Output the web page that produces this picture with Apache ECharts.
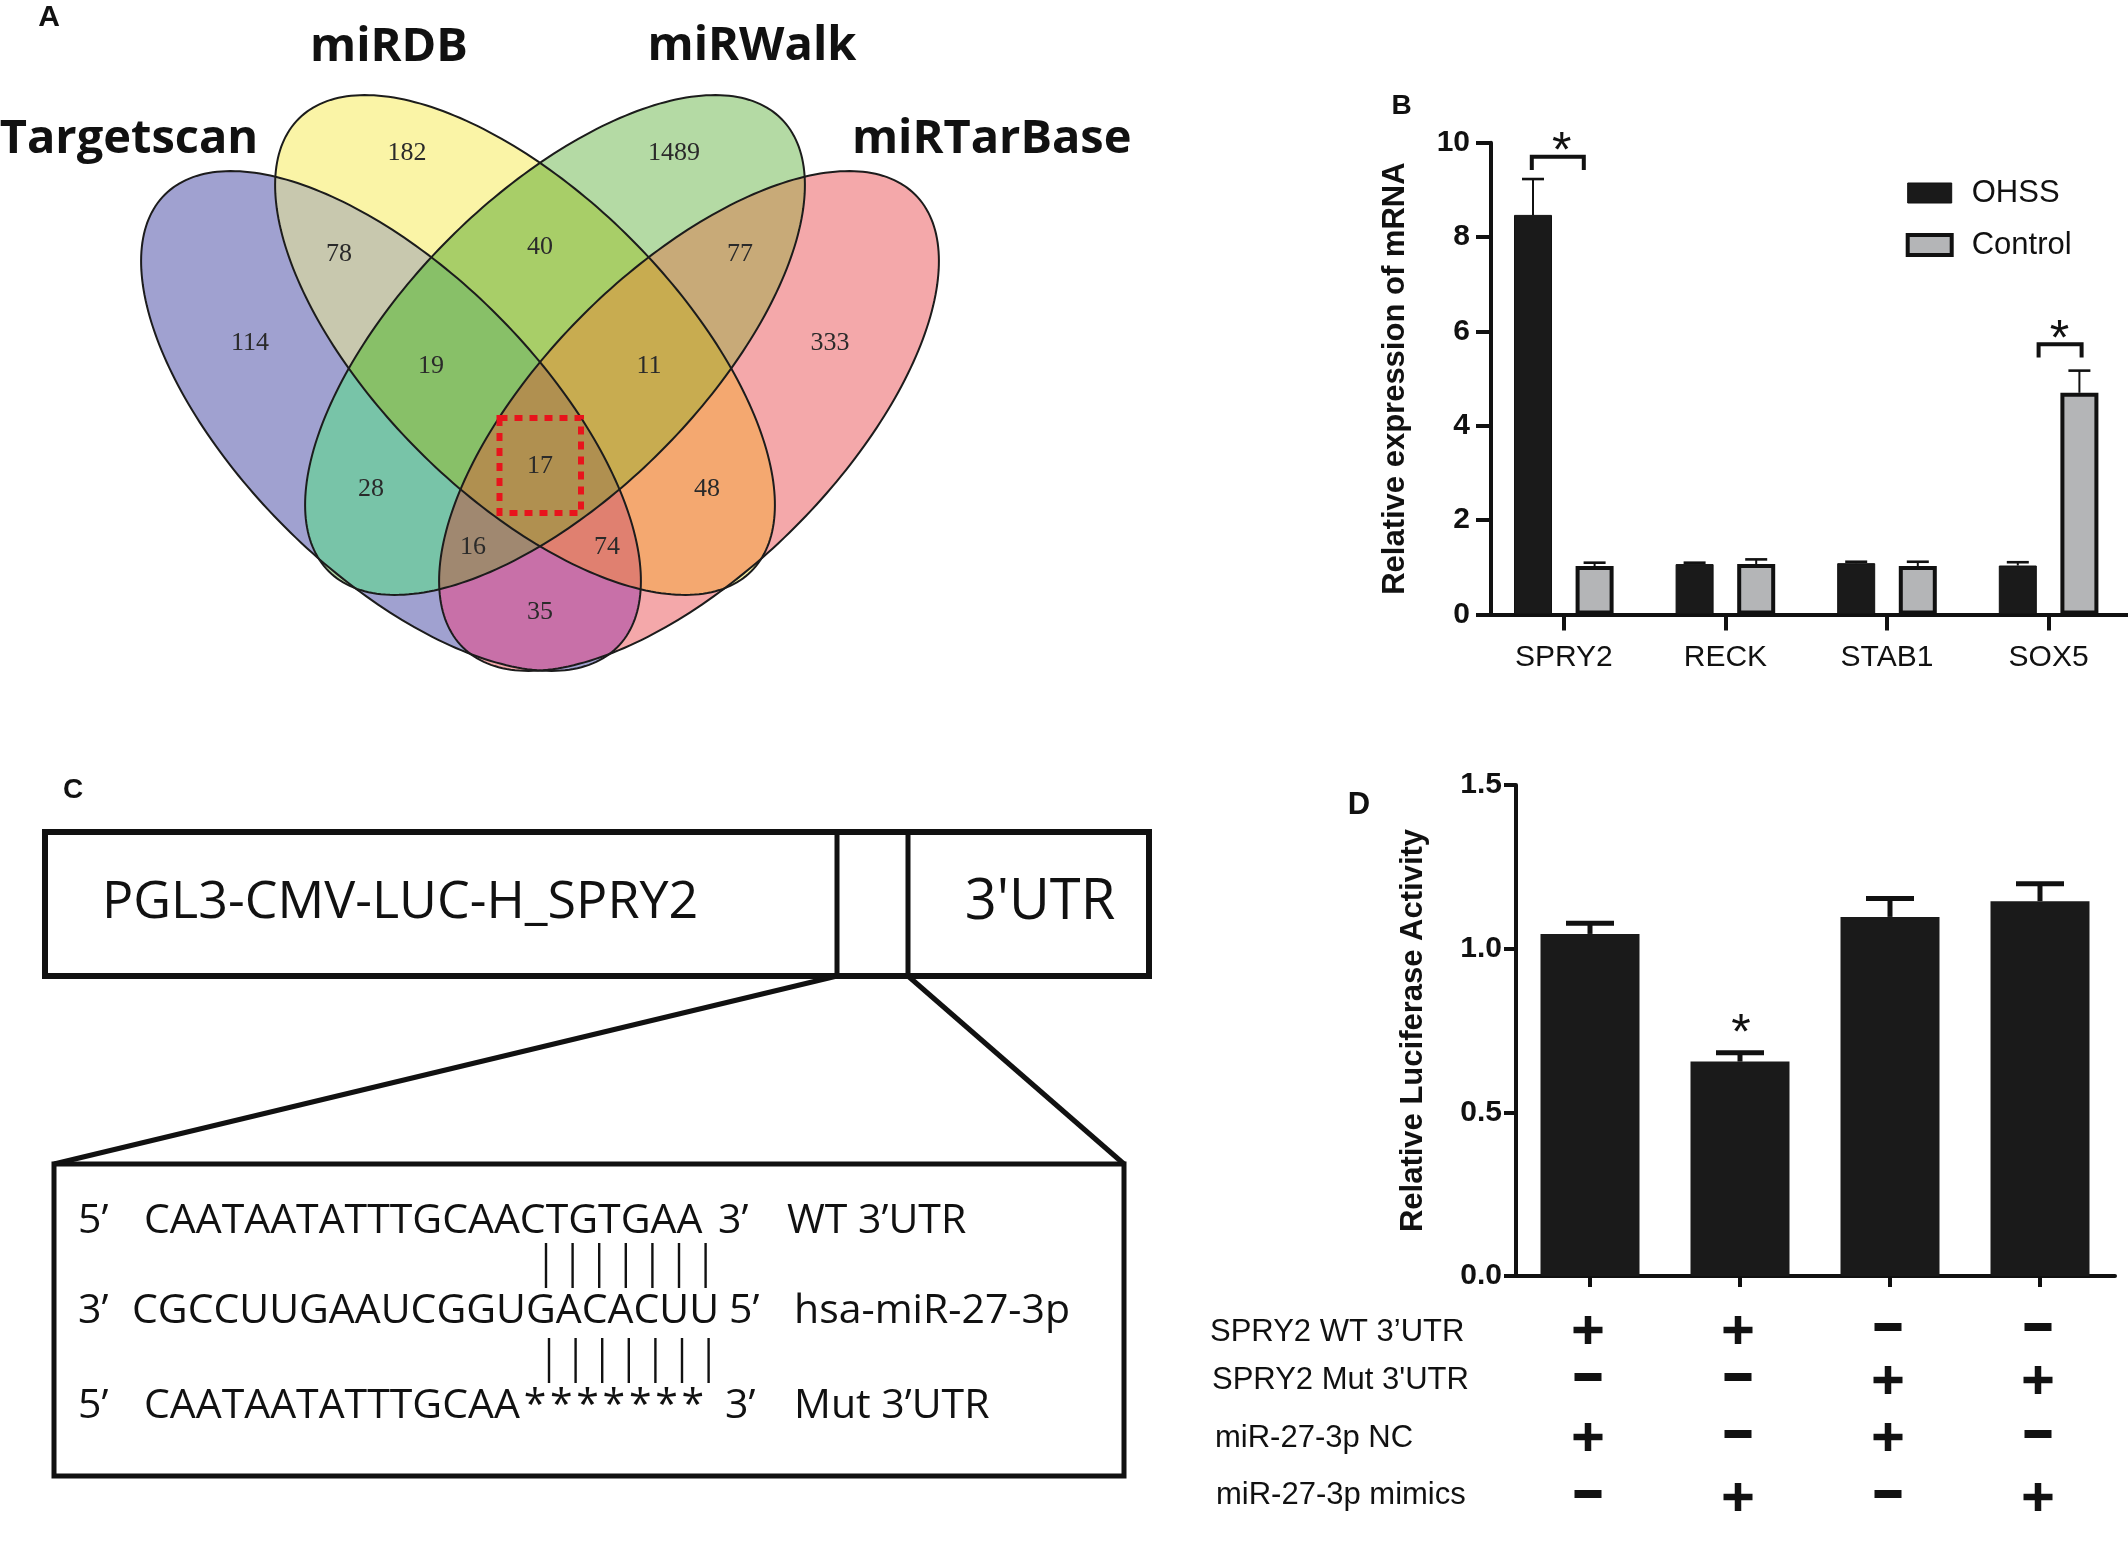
<!DOCTYPE html>
<html>
<head>
<meta charset="utf-8">
<script src="https://cdn.jsdelivr.net/npm/echarts@6/dist/echarts.min.js"></script>
<style>
html,body{margin:0;padding:0;background:#ffffff;}
#chart{width:2128px;height:1559px;}
</style>
</head>
<body>
<div id="chart"></div>
<script>
// ---------------- Panel A : Venn data ----------------
const vennSetNames = ['Targetscan', 'miRDB', 'miRWalk', 'miRTarBase'];
const vennRegionKeys = ['0','1','2','3','01','12','23','02','13','03','012','123','023','013','0123'];
const vennRegionCounts = [114, 182, 1489, 333, 78, 40, 77, 28, 48, 35, 19, 11, 16, 74, 17];

// ---------------- Panel B : qPCR data ----------------
const geneCategories = ['SPRY2', 'RECK', 'STAB1', 'SOX5'];
const seriesNames = ['OHSS', 'Control'];
const ohssValues = [8.47, 1.07, 1.09, 1.04];
const ohssErrors = [0.76, 0.03, 0.03, 0.07];
const controlValues = [1.03, 1.07, 1.03, 4.70];
const controlErrors = [0.07, 0.10, 0.09, 0.47];
const geneYTicks = { min: 0, max: 10, interval: 2 };
const geneSig = [ { cat: 0, bracket: 9.70, leg: 9.42, star: 10.02 },
                  { cat: 3, bracket: 5.73, leg: 5.45, star: 6.03 } ];

// ---------------- Panel C : construct text ----------------
const vectorName = 'PGL3-CMV-LUC-H_SPRY2';
const utrName = "3'UTR";
const seqLine1 = ['5’', 'CAATAATATTTGCAACTGTGAA', '3’', 'WT 3’UTR'];
const seqLine2 = ['3’', 'CGCCUUGAAUCGGUGACACUU', '5’', 'hsa-miR-27-3p'];
const seqLine3 = ['5’', 'CAATAATATTTGCAA', '3’', 'Mut 3’UTR'];
const seedPairCount = 7;

// ---------------- Panel D : luciferase data ----------------
const lucGroups = ['G1', 'G2', 'G3', 'G4'];
const lucValues = [1.045, 0.655, 1.097, 1.145];
const lucErrors = [0.033, 0.027, 0.056, 0.053];
const lucYTicks = { min: 0, max: 1.5, interval: 0.5 };
const lucSigGroup = 1;
const conditionRows = ['SPRY2 WT 3’UTR', "SPRY2 Mut 3'UTR", 'miR-27-3p NC', 'miR-27-3p mimics'];
const conditionMatrix = [
  [1, 1, 0, 0],
  [0, 0, 1, 1],
  [1, 0, 1, 0],
  [0, 1, 0, 1]
];

// ================= layout / style (not data) =================
const INK = '#111111';
const SANS = '"Liberation Sans", Arial, sans-serif';
const vennRegionColors = {
  '0':'#a0a1d0','1':'#faf4a6','2':'#b4daa4','3':'#f4a8aa',
  '01':'#c8c8ae','12':'#a8ce68','23':'#c8aa78','02':'#78c4a8','13':'#f4a870','03':'#c870a8',
  '012':'#88c068','123':'#c8ac50','023':'#a08870','013':'#e08070','0123':'#b09050'
};
const vennLabelPos = {
  '0':[250,343.5],'1':[407,153.5],'2':[674,153.5],'3':[830,343.5],
  '01':[339,254],'12':[540,247.5],'23':[740,254],'02':[371,489],'13':[707,489],'03':[540,612],
  '012':[431,366],'123':[649,366],'023':[473,547],'013':[607,547],'0123':[540,466]
};
const vennEllipses = [
  { cx: 391, cy: 421, rot: 45 },
  { cx: 525, cy: 345, rot: 45 },
  { cx: 555, cy: 345, rot: -45 },
  { cx: 689, cy: 421, rot: -45 }
];
const ELL_A = 320, ELL_B = 150;
const vennSetLabelPos = [[129, 139.5], [389, 47.5], [752, 46.5], [991.7, 140]];

function ellipsePoints(e, n) {
  const pts = [];
  const th = e.rot * Math.PI / 180;
  for (let k = 0; k < n; k++) {
    const t = 2 * Math.PI * k / n;
    pts.push([
      e.cx + ELL_A * Math.cos(t) * Math.cos(th) - ELL_B * Math.sin(t) * Math.sin(th),
      e.cy + ELL_A * Math.cos(t) * Math.sin(th) + ELL_B * Math.sin(t) * Math.cos(th)
    ]);
  }
  return pts;
}
function signedArea(p) {
  let s = 0;
  for (let i = 0; i < p.length; i++) {
    const a = p[i], b = p[(i + 1) % p.length];
    s += a[0] * b[1] - b[0] * a[1];
  }
  return s / 2;
}
function clipConvex(subject, clipper) {
  const sgn = signedArea(clipper) > 0 ? 1 : -1;
  let out = subject;
  for (let i = 0; i < clipper.length && out.length; i++) {
    const A = clipper[i], B = clipper[(i + 1) % clipper.length];
    const inside = P => sgn * ((B[0] - A[0]) * (P[1] - A[1]) - (B[1] - A[1]) * (P[0] - A[0])) >= 0;
    const inter = (P, Q) => {
      const x1 = P[0], y1 = P[1], x2 = Q[0], y2 = Q[1];
      const x3 = A[0], y3 = A[1], x4 = B[0], y4 = B[1];
      const den = (x1 - x2) * (y3 - y4) - (y1 - y2) * (x3 - x4);
      const t = ((x1 - x3) * (y3 - y4) - (y1 - y3) * (x3 - x4)) / den;
      return [x1 + t * (x2 - x1), y1 + t * (y2 - y1)];
    };
    const inp = out; out = [];
    for (let j = 0; j < inp.length; j++) {
      const cur = inp[j], prev = inp[(j + inp.length - 1) % inp.length];
      if (inside(cur)) {
        if (!inside(prev)) out.push(inter(prev, cur));
        out.push(cur);
      } else if (inside(prev)) {
        out.push(inter(prev, cur));
      }
    }
  }
  return out;
}

function txt(str, x, y, font, align, fill) {
  return { type: 'text', x: x, y: y, silent: true, z: 10,
    style: { text: str, font: font, fill: fill || INK,
             align: align || 'left', textAlign: align || 'left',
             verticalAlign: 'middle', textVerticalAlign: 'middle' } };
}
function ln(x1, y1, x2, y2, w) {
  return { type: 'line', silent: true, z: 10, shape: { x1, y1, x2, y2 },
           style: { stroke: INK, lineWidth: w } };
}

const graphics = [];

// ---- Panel A : Venn ----
const ellPts = vennEllipses.map(e => ellipsePoints(e, 260));
const orderedKeys = vennRegionKeys.slice().sort((a, b) => a.length - b.length);
orderedKeys.forEach(key => {
  const idx = key.split('').map(Number);
  let poly = ellPts[idx[0]];
  for (let i = 1; i < idx.length; i++) poly = clipConvex(poly, ellPts[idx[i]]);
  if (poly.length > 2) {
    graphics.push({ type: 'polygon', silent: true, z: 1, shape: { points: poly },
                    style: { fill: vennRegionColors[key], stroke: vennRegionColors[key], lineWidth: 0.6 } });
  }
});
ellPts.forEach(p => {
  graphics.push({ type: 'polygon', silent: true, z: 2, shape: { points: p },
                  style: { fill: 'none', stroke: '#1c1c1c', lineWidth: 2 } });
});
vennRegionKeys.forEach((key, i) => {
  const p = vennLabelPos[key];
  graphics.push(txt(String(vennRegionCounts[i]), p[0], p[1], '26px "Liberation Serif", "DejaVu Serif", serif', 'center', '#2a2a2a'));
});
vennSetNames.forEach((name, i) => {
  const p = vennSetLabelPos[i];
  graphics.push(txt(name, p[0], p[1], 'bold 47px "Open Sans", sans-serif', 'center', INK));
});
graphics.push({ type: 'rect', silent: true, z: 5, shape: { x: 499.5, y: 418, width: 81.5, height: 95 },
                style: { fill: 'none', stroke: '#e8141c', lineWidth: 6, lineDash: [8, 7] } });
graphics.push(txt('A', 49, 17.5, 'bold 30px ' + SANS, 'center'));

// ---- Panel B / C / D letters ----
graphics.push(txt('B', 1401.5, 106.7, 'bold 28px ' + SANS, 'center'));
graphics.push(txt('C', 73, 790, 'bold 28px ' + SANS, 'center'));
graphics.push(txt('D', 1359, 805, 'bold 31px ' + SANS, 'center'));

// ---- Panel C : construct ----
graphics.push({ type: 'rect', silent: true, z: 10, shape: { x: 45, y: 832, width: 1104, height: 144 },
                style: { fill: 'none', stroke: INK, lineWidth: 6 } });
graphics.push(ln(837, 832, 837, 976, 5));
graphics.push(ln(908, 832, 908, 976, 5));
graphics.push(txt(vectorName, 102, 903, '52px "Open Sans", sans-serif', 'left'));
graphics.push(txt(utrName, 1040, 903, '56px "Open Sans", sans-serif', 'center'));
graphics.push(ln(837, 976, 54, 1164, 5));
graphics.push(ln(908, 976, 1124, 1164, 5));
graphics.push({ type: 'rect', silent: true, z: 10, shape: { x: 54, y: 1164, width: 1070, height: 312 },
                style: { fill: 'none', stroke: INK, lineWidth: 5 } });
const SEQ_FONT = '41px "Open Sans", sans-serif';
const seqLineY = [1221, 1311, 1406];
const seqLineX = [[78, 144, 718, 787], [78, 132, 729, 794], [78, 144, 725, 794]];
[seqLine1, seqLine2, seqLine3].forEach((parts, li) => {
  parts.forEach((s, pi) => graphics.push(txt(s, seqLineX[li][pi], seqLineY[li], SEQ_FONT, 'left')));
});
for (let i = 0; i < seedPairCount; i++) {
  graphics.push(txt('*', 535 + 26.3 * i, 1406, SEQ_FONT, 'center'));
  graphics.push(ln(546 + 26.6 * i, 1243, 546 + 26.6 * i, 1288, 2.4));
  graphics.push(ln(549 + 26.6 * i, 1338, 549 + 26.6 * i, 1383, 2.4));
}

// ---- Panel D : condition row labels ----
const tableRowY = [1330, 1380, 1437, 1497];
const tableLabelX = [1210, 1212, 1215, 1216];
const tableLabelY = [1332.7, 1380.7, 1438.3, 1495];
conditionRows.forEach((s, r) => graphics.push(txt(s, tableLabelX[r], tableLabelY[r], '31px ' + SANS, 'left')));

// ================= ECharts option =================
const B_BAR_W = 38, B_GAP = 23.6;
const B_OFF = (B_BAR_W + B_GAP) / 2;

const errB = [];
ohssValues.forEach((v, i) => errB.push([i, v, ohssErrors[i], -1]));
controlValues.forEach((v, i) => errB.push([i, v, controlErrors[i], 1]));
const errD = lucValues.map((v, i) => [i, v, lucErrors[i]]);
const tableData = [];
conditionMatrix.forEach((row, r) => row.forEach((f, c) => tableData.push([c, r, f])));

const sigOffsets = [[-32, 20, -2], [-10, 33, 11]];

function axisY(gridIdx, ticks, name, nameGap, offset, fmt, margin, tickLen) {
  return {
    gridIndex: gridIdx, type: 'value', min: ticks.min, max: ticks.max, interval: ticks.interval,
    offset: offset,
    name: name, nameLocation: 'middle', nameGap: nameGap, nameRotate: 90,
    nameTextStyle: { fontFamily: SANS, fontWeight: 'bold', fontSize: 31, color: INK },
    axisLine: { show: true, lineStyle: { color: INK, width: 4 } },
    axisTick: { show: true, length: tickLen, lineStyle: { color: INK, width: 4 } },
    axisLabel: { fontFamily: SANS, fontWeight: 'bold', fontSize: 30, color: INK, margin: margin, formatter: fmt },
    splitLine: { show: false }
  };
}

const option = {
  backgroundColor: '#ffffff',
  animation: false,
  textStyle: { fontFamily: SANS },
  grid: [
    { left: 1483, top: 142.7, width: 646.4, height: 471.9, outerBoundsMode: 'none', containLabel: false },
    { left: 1515, top: 785, width: 600, height: 491, outerBoundsMode: 'none', containLabel: false }
  ],
  legend: {
    left: 1900.7, top: 170, orient: 'vertical',
    itemWidth: 44, itemHeight: 20, itemGap: 16, icon: 'rect',
    textStyle: { fontFamily: SANS, fontSize: 31, color: INK, lineHeight: 36, padding: [0, 0, 0, 15] },
    data: [
      { name: seriesNames[0], itemStyle: { color: '#1a1a1a', borderColor: INK, borderWidth: 1 } },
      { name: seriesNames[1], itemStyle: { color: '#b4b5b7', borderColor: INK, borderWidth: 4 } }
    ]
  },
  xAxis: [
    {
      gridIndex: 0, type: 'category', data: geneCategories,
      axisLine: { show: true, lineStyle: { color: INK, width: 4 } },
      axisTick: { show: true, alignWithLabel: true, length: 16, lineStyle: { color: INK, width: 4 } },
      axisLabel: { fontFamily: SANS, fontSize: 30, color: INK, margin: 28 },
      splitLine: { show: false }
    },
    {
      gridIndex: 1, type: 'category', data: lucGroups,
      axisLine: { show: true, lineStyle: { color: INK, width: 4 } },
      axisTick: { show: true, alignWithLabel: true, length: 11, lineStyle: { color: INK, width: 4 } },
      axisLabel: { show: false },
      splitLine: { show: false }
    }
  ],
  yAxis: [
    axisY(0, geneYTicks, 'Relative expression of mRNA', 80, -8, v => String(v), 21, 15),
    axisY(1, lucYTicks, 'Relative Luciferase Activity', 87, -1, v => v.toFixed(1), 14, 12)
  ],
  graphic: { elements: graphics },
  series: [
    {
      name: seriesNames[0], type: 'bar', xAxisIndex: 0, yAxisIndex: 0, data: ohssValues,
      barWidth: B_BAR_W, barGap: (B_GAP / B_BAR_W * 100).toFixed(1) + '%', z: 3,
      itemStyle: { color: '#1a1a1a', borderColor: INK, borderWidth: 1 }
    },
    {
      name: seriesNames[1], type: 'bar', xAxisIndex: 0, yAxisIndex: 0, data: controlValues,
      barWidth: B_BAR_W, z: 3,
      itemStyle: { color: '#b4b5b7', borderColor: INK, borderWidth: 4 }
    },
    {
      type: 'custom', xAxisIndex: 0, yAxisIndex: 0, data: errB, z: 2, clip: false, silent: true,
      encode: { x: 0, y: 1 },
      renderItem: function (params, api) {
        const cat = api.value(0), v = api.value(1), e = api.value(2), side = api.value(3);
        const base = api.coord([cat, v]);
        const top = api.coord([cat, v + e]);
        const x = base[0] + side * B_OFF;
        return { type: 'group', children: [
          { type: 'line', shape: { x1: x, y1: base[1], x2: x, y2: top[1] }, style: { stroke: INK, lineWidth: 2 } },
          { type: 'line', shape: { x1: x - 11, y1: top[1], x2: x + 11, y2: top[1] }, style: { stroke: INK, lineWidth: 2.6 } }
        ] };
      }
    },
    {
      type: 'custom', xAxisIndex: 0, yAxisIndex: 0, z: 4, clip: false, silent: true,
      data: geneSig.map(s => [s.cat, s.bracket, s.leg, s.star]),
      encode: { x: 0, y: 1 },
      renderItem: function (params, api) {
        const cat = api.value(0);
        const off = sigOffsets[params.dataIndex];
        const c = api.coord([cat, api.value(1)]);
        const yl = api.coord([cat, api.value(2)])[1];
        const ys = api.coord([cat, api.value(3)])[1];
        const xl = c[0] + off[0], xr = c[0] + off[1];
        return { type: 'group', children: [
          { type: 'polyline', shape: { points: [[xl, yl], [xl, c[1]], [xr, c[1]], [xr, yl]] },
            style: { stroke: INK, lineWidth: 4, fill: 'none' } },
          { type: 'text', x: c[0] + off[2], y: ys + 11,
            style: { text: '*', font: '50px ' + SANS, fill: INK, align: 'center', textAlign: 'center',
                     verticalAlign: 'middle', textVerticalAlign: 'middle' } }
        ] };
      }
    },
    {
      type: 'bar', xAxisIndex: 1, yAxisIndex: 1, data: lucValues, barWidth: 99, z: 3,
      itemStyle: { color: '#1a1a1a' }
    },
    {
      type: 'custom', xAxisIndex: 1, yAxisIndex: 1, data: errD, z: 2, clip: false, silent: true,
      encode: { x: 0, y: 1 },
      renderItem: function (params, api) {
        const cat = api.value(0), v = api.value(1), e = api.value(2);
        const base = api.coord([cat, v]);
        const top = api.coord([cat, v + e]);
        const x = base[0];
        const children = [
          { type: 'line', shape: { x1: x, y1: base[1], x2: x, y2: top[1] }, style: { stroke: INK, lineWidth: 5 } },
          { type: 'line', shape: { x1: x - 24, y1: top[1], x2: x + 24, y2: top[1] }, style: { stroke: INK, lineWidth: 5 } }
        ];
        if (cat === lucSigGroup) {
          children.push({ type: 'text', x: x + 1, y: top[1] - 29 + 11,
            style: { text: '*', font: '50px ' + SANS, fill: INK, align: 'center', textAlign: 'center',
                     verticalAlign: 'middle', textVerticalAlign: 'middle' } });
        }
        return { type: 'group', children: children };
      }
    },
    {
      type: 'custom', xAxisIndex: 1, yAxisIndex: 1, data: tableData, z: 4, clip: false, silent: true,
      encode: { x: 0, y: 1 },
      renderItem: function (params, api) {
        const c = api.value(0), r = api.value(1), f = api.value(2);
        const x = api.coord([c, 0])[0] - 2;
        const y = tableRowY[r];
        if (f) {
          return { type: 'group', children: [
            { type: 'rect', shape: { x: x - 14.5, y: y - 3.25, width: 29, height: 6.5 }, style: { fill: INK } },
            { type: 'rect', shape: { x: x - 3.25, y: y - 14, width: 6.5, height: 28 }, style: { fill: INK } }
          ] };
        }
        return { type: 'rect', shape: { x: x - 13.5, y: y - 7, width: 27, height: 8 }, style: { fill: INK } };
      }
    }
  ]
};

const chart = echarts.init(document.getElementById('chart'), null, { renderer: 'canvas', width: 2128, height: 1559 });
chart.setOption(option);
</script>
</body>
</html>
